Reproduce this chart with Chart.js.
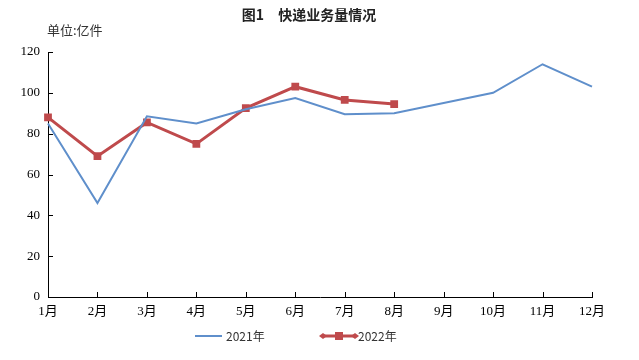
<!DOCTYPE html>
<html>
<head>
<meta charset="utf-8">
<script src="https://cdn.jsdelivr.net/npm/chart.js@4/dist/chart.umd.min.js"></script>
<style>
  html, body { margin: 0; padding: 0; background: #fff; }
  #wrap { width: 639px; height: 360px; }
</style>
</head>
<body>
<div id="wrap"><canvas id="myChart" width="639" height="360"></canvas></div>
<script>
// data
const months = ['1月', '2月', '3月', '4月', '5月', '6月', '7月', '8月', '9月', '10月', '11月', '12月'];
const volume2021 = [85, 46, 88.5, 85, 92, 97.5, 89.5, 90, 95, 100, 114, 103];
const volume2022 = [88, 69, 85.5, 75, 92.5, 103, 96.5, 94.5];
const seriesNames = ['2021年', '2022年'];
const yMin = 0, yMax = 120, yStep = 20;

const titleText = '图1\u3000快递业务量情况';
const unitText = '单位:亿件';

const blue = '#5f8fcb';
const red = '#bf4a4c';
const serif = '"Liberation Serif", "Noto Sans CJK SC", serif';
const sans = '"Noto Sans CJK SC", "Liberation Sans", sans-serif';

// inward ticks, title, unit label and legend
let extras = {
    id: 'extras',
    afterDraw(chart) {
        let ctx = chart.ctx;
        let area = chart.chartArea;
        let xs = chart.scales.x;
        let ys = chart.scales.y;
        ctx.save();
        ctx.strokeStyle = '#000';
        ctx.lineWidth = 1;
        ctx.beginPath();
        ys.ticks.forEach(t => {
            let y = Math.round(ys.getPixelForValue(t.value)) + 0.5;
            ctx.moveTo(area.left, y);
            ctx.lineTo(area.left + 5, y);
        });
        xs.ticks.forEach((t, i) => {
            if (i === 0) return;
            let x = Math.round(xs.getPixelForValue(i)) + 0.5;
            ctx.moveTo(x, area.bottom);
            ctx.lineTo(x, area.bottom - 5);
        });
        ctx.stroke();

        // title
        ctx.fillStyle = '#222';
        ctx.font = 'bold 14px ' + sans;
        ctx.textAlign = 'center';
        ctx.textBaseline = 'middle';
        ctx.fillText(titleText, 309, 15);

        // unit
        ctx.font = '13px ' + sans;
        ctx.textAlign = 'left';
        ctx.fillStyle = '#333';
        ctx.fillText(unitText, 47, 30);

        // legend
        let ly = 336;
        ctx.font = '12px ' + sans;
        ctx.fillStyle = '#333';
        ctx.strokeStyle = blue;
        ctx.lineWidth = 2;
        ctx.beginPath();
        ctx.moveTo(195, ly);
        ctx.lineTo(222, ly);
        ctx.stroke();
        ctx.fillText(seriesNames[0], 226, ly);

        ctx.strokeStyle = red;
        ctx.lineWidth = 3;
        ctx.beginPath();
        ctx.moveTo(323, ly);
        ctx.lineTo(355, ly);
        ctx.stroke();
        ctx.fillStyle = red;
        [323, 355].forEach(x => {
            ctx.beginPath();
            ctx.moveTo(x - 4, ly);
            ctx.lineTo(x, ly - 3);
            ctx.lineTo(x + 4, ly);
            ctx.lineTo(x, ly + 3);
            ctx.closePath();
            ctx.fill();
        });
        ctx.fillRect(335, ly - 4, 8, 8);
        ctx.fillStyle = '#333';
        ctx.fillText(seriesNames[1], 358, ly);
        ctx.restore();
    }
};

let mychart = new Chart(document.getElementById('myChart').getContext('2d'), {
    type: 'line',
    data: {
        labels: months,
        datasets: [
            {
                label: seriesNames[0],
                data: volume2021,
                borderColor: blue,
                backgroundColor: blue,
                borderWidth: 2,
                pointRadius: 0,
                tension: 0
            },
            {
                label: seriesNames[1],
                data: volume2022,
                borderColor: red,
                backgroundColor: red,
                borderWidth: 3,
                pointStyle: 'rect',
                pointRadius: 5.5,
                pointBorderWidth: 0,
                tension: 0
            }
        ]
    },
    options: {
        responsive: false,
        animation: false,
        layout: { padding: { top: 52, left: 0, right: 47, bottom: 43 } },
        plugins: {
            legend: { display: false },
            title: { display: false },
            tooltip: { enabled: false }
        },
        scales: {
            x: {
                offset: false,
                grid: { drawOnChartArea: false, drawTicks: false },
                border: { color: '#000', width: 1 },
                ticks: { color: '#000', font: { family: serif, size: 13 }, padding: 7, maxRotation: 0, autoSkip: false },
                afterFit: s => { s.height = 20; }
            },
            y: {
                min: yMin,
                max: yMax,
                grid: { drawOnChartArea: false, drawTicks: false },
                border: { color: '#000', width: 1 },
                ticks: { stepSize: yStep, color: '#000', font: { family: serif, size: 13 }, padding: 8 },
                afterFit: s => { s.width = 48; }
            }
        }
    },
    plugins: [extras]
});
</script>
</body>
</html>
